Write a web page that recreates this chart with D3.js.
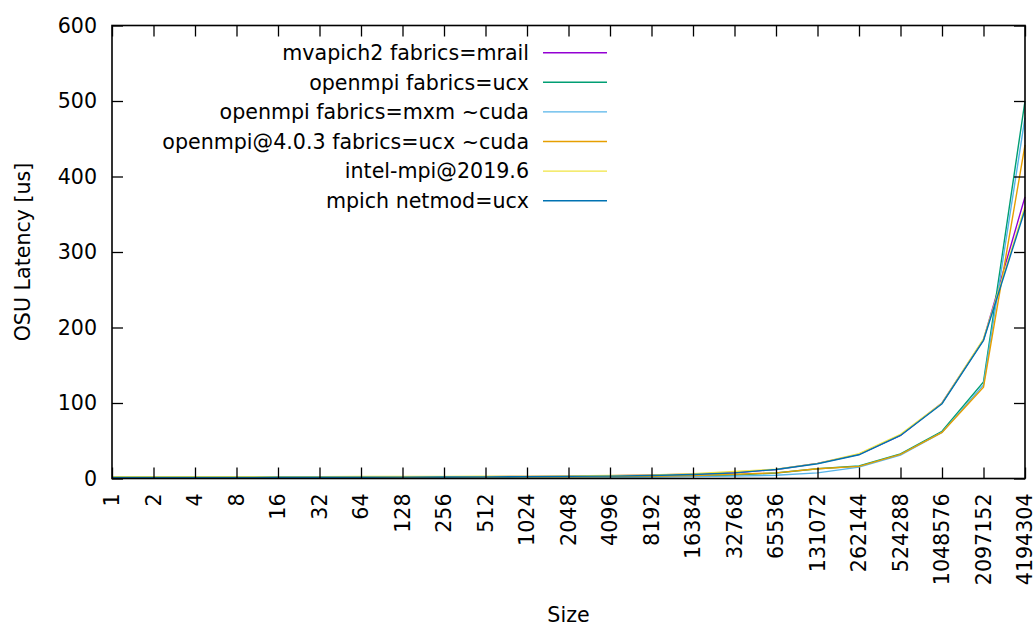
<!DOCTYPE html>
<html>
<head>
<meta charset="utf-8">
<script src="https://cdn.jsdelivr.net/npm/d3@7"></script>
<style>
  html, body { margin: 0; padding: 0; background: #fff; }
  svg text { font-family: "DejaVu Sans", Verdana, sans-serif; fill: #000; }
</style>
</head>
<body>
<svg id="chart" width="1036" height="626"></svg>
<script>
// Message sizes in bytes (x categories)
const sizes = [1, 2, 4, 8, 16, 32, 64, 128, 256, 512, 1024, 2048, 4096, 8192,
  16384, 32768, 65536, 131072, 262144, 524288, 1048576, 2097152, 4194304];

// OSU latency in microseconds for each MPI build
const seriesNames = [
  "mvapich2 fabrics=mrail",
  "openmpi fabrics=ucx",
  "openmpi fabrics=mxm ~cuda",
  "openmpi@4.0.3 fabrics=ucx ~cuda",
  "intel-mpi@2019.6",
  "mpich netmod=ucx"
];
const mvapich2 = [1.6, 1.6, 1.6, 1.6, 1.7, 1.7, 1.8, 2.0, 2.2, 2.4, 2.8, 3.2, 3.8, 4.8,
  5.6, 7.6, 12, 20, 32, 57, 100, 184, 373];
const openmpiUcx = [1.2, 1.2, 1.2, 1.2, 1.3, 1.3, 1.4, 1.6, 1.7, 1.8, 2.0, 2.2, 2.4, 2.6,
  3.2, 4.6, 7.2, 13, 16.5, 32.5, 62.5, 128, 500];
const openmpiMxm = [1.3, 1.3, 1.3, 1.3, 1.3, 1.3, 1.4, 1.5, 1.5, 1.5, 1.6, 1.6, 1.7, 1.9,
  2.6, 3.1, 4.4, 7.5, 15, 31, 61, 124, 478];
const openmpi403 = [1.5, 1.5, 1.5, 1.5, 1.6, 1.6, 1.7, 2.0, 2.1, 2.2, 2.3, 2.4, 2.6, 2.9,
  4.0, 5.7, 7.5, 13, 16, 32, 61, 121, 442];
const intelMpi = [2.4, 2.4, 2.4, 2.4, 2.5, 2.5, 2.6, 2.7, 2.8, 2.9, 3.1, 3.4, 3.9, 4.8,
  6.2, 9.3, 12.2, 20, 33, 58.5, 100, 185, 360];
const mpichUcx = [1.5, 1.5, 1.5, 1.5, 1.6, 1.6, 1.7, 1.8, 2.0, 2.2, 2.5, 2.8, 3.2, 4.0,
  5.3, 7.5, 12, 19.5, 31.4, 57, 99, 183, 356];
const seriesValues = [mvapich2, openmpiUcx, openmpiMxm, openmpi403, intelMpi, mpichUcx];
const seriesColors = ["#9400d3", "#009e73", "#56b4e9", "#e69f00", "#f0e442", "#0072b2"];

// Y axis ticks
const yTicks = [0, 100, 200, 300, 400, 500, 600];

const svg = d3.select("#chart");
const plot = { left: 112, right: 1025, top: 25.5, bottom: 478.5 };
const tickLen = 11;
const fontSize = "20.6px";

const x = d3.scalePoint()
  .domain(sizes.map(String))
  .range([plot.left, plot.right])
  .padding(0);
const y = d3.scaleLinear()
  .domain([0, 600])
  .range([plot.bottom, plot.top]);

// Series lines
const line = d3.line()
  .x((d, i) => x(String(sizes[i])))
  .y(d => y(d));

const g = svg.append("g");
seriesValues.forEach((vals, k) => {
  g.append("path")
    .datum(vals)
    .attr("d", line)
    .attr("fill", "none")
    .attr("stroke", seriesColors[k])
    .attr("stroke-width", 1.4)
    .attr("stroke-linejoin", "miter");
});

// Axes: ticks drawn inward on all four sides
const axisG = svg.append("g");
const bottomAxis = d3.axisBottom(x).tickSizeInner(-tickLen).tickSizeOuter(0).tickFormat("");
const topAxis = d3.axisTop(x).tickSizeInner(-tickLen).tickSizeOuter(0).tickFormat("");
const leftAxis = d3.axisLeft(y).tickValues(yTicks).tickSizeInner(-tickLen).tickSizeOuter(0).tickFormat("");
const rightAxis = d3.axisRight(y).tickValues(yTicks).tickSizeInner(-tickLen).tickSizeOuter(0).tickFormat("");

[[bottomAxis, `translate(0,${plot.bottom})`],
 [topAxis, `translate(0,${plot.top})`],
 [leftAxis, `translate(${plot.left},0)`],
 [rightAxis, `translate(${plot.right},0)`]].forEach(([ax, tr]) => {
  const a = axisG.append("g").attr("transform", tr).call(ax);
  a.select(".domain").remove();
  a.selectAll(".tick line").attr("stroke", "#000").attr("stroke-width", 1.3);
});

// Border
svg.append("rect")
  .attr("x", plot.left).attr("y", plot.top)
  .attr("width", plot.right - plot.left).attr("height", plot.bottom - plot.top)
  .attr("fill", "none").attr("stroke", "#000").attr("stroke-width", 1.6);

// Y tick labels
svg.append("g").selectAll("text")
  .data(yTicks)
  .join("text")
  .attr("x", plot.left - 15)
  .attr("y", d => y(d) + 7.3)
  .attr("text-anchor", "end")
  .style("font-size", fontSize)
  .text(d => d);

// X tick labels, rotated
svg.append("g").selectAll("text")
  .data(sizes)
  .join("text")
  .attr("transform", d => `translate(${x(String(d)) + 7.3},${plot.bottom + 15}) rotate(-90)`)
  .attr("text-anchor", "end")
  .style("font-size", fontSize)
  .text(d => d);

// Axis titles
svg.append("text")
  .attr("transform", `translate(30,${(plot.top + plot.bottom) / 2}) rotate(-90)`)
  .attr("text-anchor", "middle")
  .style("font-size", fontSize)
  .text("OSU Latency [us]");

svg.append("text")
  .attr("x", (plot.left + plot.right) / 2)
  .attr("y", 622)
  .attr("text-anchor", "middle")
  .style("font-size", fontSize)
  .text("Size");

// Legend
const legend = svg.append("g");
const legTextX = 529, legLineX1 = 543, legLineX2 = 607, legY0 = 52.7, legStep = 29.6;
seriesNames.forEach((name, k) => {
  const yy = legY0 + k * legStep;
  legend.append("text")
    .attr("x", legTextX)
    .attr("y", yy + 7.3)
    .attr("text-anchor", "end")
    .style("font-size", fontSize)
    .text(name);
  legend.append("line")
    .attr("x1", legLineX1).attr("x2", legLineX2)
    .attr("y1", yy).attr("y2", yy)
    .attr("stroke", seriesColors[k])
    .attr("stroke-width", 1.4);
});
</script>
</body>
</html>
